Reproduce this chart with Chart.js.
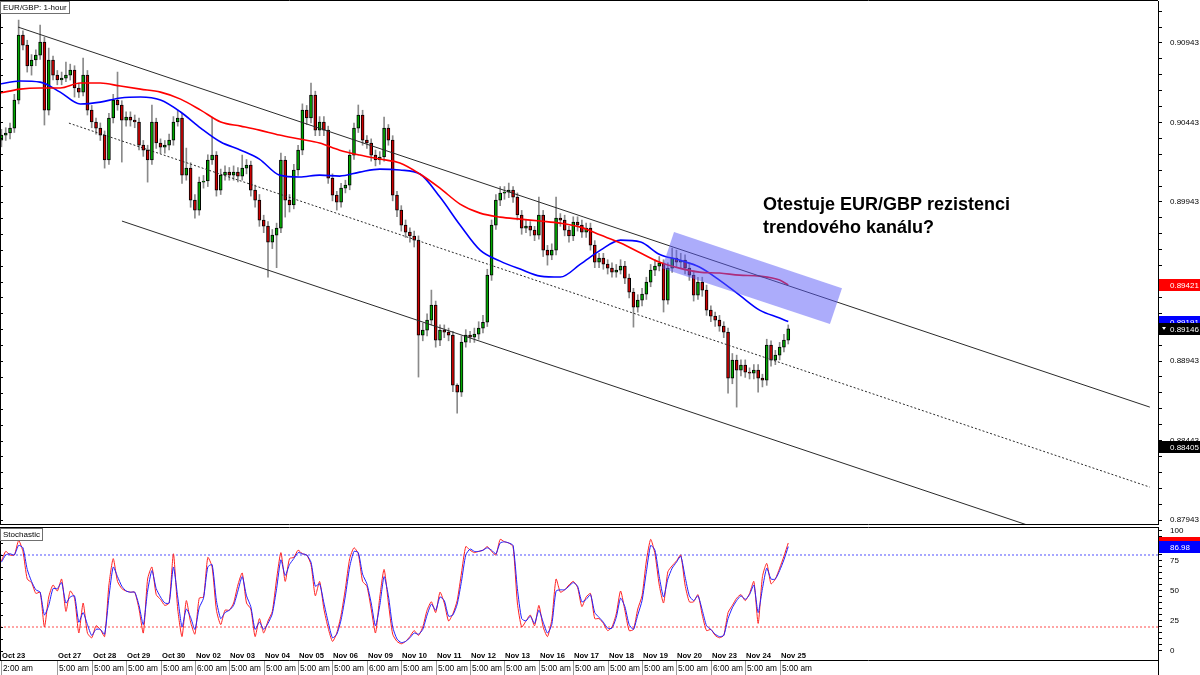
<!DOCTYPE html>
<html>
<head>
<meta charset="utf-8">
<title>EUR/GBP 1-hour</title>
<script src="https://cdn.jsdelivr.net/npm/chart.js@4.4.0/dist/chart.umd.min.js"></script>
<style>
  html, body { margin: 0; padding: 0; background: #fff; }
  #wrap { position: relative; width: 1200px; height: 675px; overflow: hidden; }
  #priceBox { position: absolute; left: 0; top: 0; width: 1200px; height: 526px; }
  #stochBox { position: absolute; left: 0; top: 525px; width: 1200px; height: 150px; }
</style>
</head>
<body>
<div id="wrap">
  <div id="priceBox"><canvas id="priceChart"></canvas></div>
  <div id="stochBox"><canvas id="stochChart"></canvas></div>
</div>
<script>
// --- time axis (x unit = hourly bar index) ---
const dayTickHours = [1, 40, 64, 88, 112, 136, 160, 184, 208, 232, 256, 280, 304, 328, 352, 376, 400, 424, 448, 472, 496, 520, 544];
const dayLabels = ['Oct 23', 'Oct 27', 'Oct 28', 'Oct 29', 'Oct 30', 'Nov 02', 'Nov 03', 'Nov 04', 'Nov 05', 'Nov 06', 'Nov 09',
  'Nov 10', 'Nov 11', 'Nov 12', 'Nov 13', 'Nov 16', 'Nov 17', 'Nov 18', 'Nov 19', 'Nov 20', 'Nov 23', 'Nov 24', 'Nov 25'];
const timeLabels = ['2:00 am', '5:00 am', '5:00 am', '5:00 am', '5:00 am', '6:00 am', '5:00 am', '5:00 am', '5:00 am', '5:00 am', '6:00 am',
  '5:00 am', '5:00 am', '5:00 am', '5:00 am', '5:00 am', '5:00 am', '5:00 am', '5:00 am', '5:00 am', '6:00 am', '5:00 am', '5:00 am'];
const hourMin = 0;
const hourMax = 808;
const candleStepHours = 3;

// --- EUR/GBP candles (3 hours each) ---
const opens = [
  0.90332, 0.90364, 0.90377, 0.90408, 0.90584, 0.90993, 0.90930, 0.90798, 0.90836, 0.90867,
  0.90949, 0.90521, 0.90836, 0.90741, 0.90710, 0.90722, 0.90741, 0.90773, 0.90660, 0.90634,
  0.90741, 0.90521, 0.90446, 0.90408, 0.90364, 0.90207, 0.90471, 0.90584, 0.90553, 0.90458,
  0.90477, 0.90458, 0.90446, 0.90301, 0.90269, 0.90207, 0.90446, 0.90314, 0.90288, 0.90301,
  0.90332, 0.90446, 0.90471, 0.90112, 0.90156, 0.89955, 0.89892, 0.90068, 0.90075, 0.90207,
  0.90238, 0.90018, 0.90112, 0.90131, 0.90112, 0.90131, 0.90106, 0.90156, 0.90175, 0.90018,
  0.89955, 0.89829, 0.89791, 0.89691, 0.89735, 0.89779, 0.90207, 0.89955, 0.89924, 0.90144,
  0.90269, 0.90521, 0.90471, 0.90615, 0.90395, 0.90446, 0.90395, 0.90093, 0.89986, 0.89942,
  0.90030, 0.90049, 0.90238, 0.90408, 0.90490, 0.90332, 0.90314, 0.90238, 0.90207, 0.90226,
  0.90408, 0.90332, 0.89986, 0.89892, 0.89798, 0.89754, 0.89729, 0.89703, 0.89106, 0.89137,
  0.89200, 0.89295, 0.89074, 0.89137, 0.89125, 0.89106, 0.88791, 0.88747, 0.89062, 0.89106,
  0.89093, 0.89112, 0.89150, 0.89187, 0.89483, 0.89798, 0.89955, 0.89999, 0.90005, 0.90018,
  0.89974, 0.89861, 0.89779, 0.89791, 0.89766, 0.89735, 0.89861, 0.89640, 0.89609, 0.89640,
  0.89842, 0.89829, 0.89766, 0.89729, 0.89817, 0.89798, 0.89754, 0.89779, 0.89672, 0.89565,
  0.89590, 0.89552, 0.89527, 0.89502, 0.89515, 0.89540, 0.89464, 0.89376, 0.89282, 0.89326,
  0.89364, 0.89439, 0.89515, 0.89540, 0.89559, 0.89326, 0.89527, 0.89590, 0.89565, 0.89578,
  0.89527, 0.89483, 0.89357, 0.89439, 0.89389, 0.89263, 0.89225, 0.89200, 0.89162, 0.89125,
  0.88835, 0.88949, 0.88886, 0.88917, 0.88873, 0.88867, 0.88886, 0.88835, 0.88823, 0.89043,
  0.88949, 0.88980, 0.89030, 0.89074
];
const highs = [
  0.90400, 0.90410, 0.90440, 0.90620, 0.91087, 0.91020, 0.90960, 0.90870, 0.90900, 0.91056,
  0.90980, 0.90911, 0.90860, 0.90770, 0.90760, 0.90823, 0.90810, 0.90800, 0.90690, 0.90848,
  0.90770, 0.90550, 0.90470, 0.90440, 0.90390, 0.90500, 0.90620, 0.90760, 0.90580, 0.90510,
  0.90510, 0.90490, 0.90470, 0.90330, 0.90300, 0.90553, 0.90470, 0.90340, 0.90330, 0.90370,
  0.90480, 0.90521, 0.90500, 0.90282, 0.90190, 0.89990, 0.90100, 0.90110, 0.90240, 0.90477,
  0.90260, 0.90150, 0.90170, 0.90160, 0.90170, 0.90160, 0.90238, 0.90210, 0.90200, 0.90050,
  0.89990, 0.89860, 0.89820, 0.89770, 0.89810, 0.90250, 0.90230, 0.89990, 0.90180, 0.90300,
  0.90560, 0.90550, 0.90691, 0.90640, 0.90480, 0.90480, 0.90420, 0.90120, 0.90010, 0.90060,
  0.90080, 0.90270, 0.90440, 0.90553, 0.90520, 0.90360, 0.90340, 0.90270, 0.90260, 0.90477,
  0.90430, 0.90360, 0.90010, 0.89920, 0.89830, 0.89780, 0.89760, 0.89730, 0.89180, 0.89240,
  0.89389, 0.89320, 0.89170, 0.89170, 0.89150, 0.89130, 0.88800, 0.89100, 0.89140, 0.89130,
  0.89150, 0.89190, 0.89230, 0.89520, 0.89830, 0.89990, 0.90040, 0.90040, 0.90062, 0.90040,
  0.90000, 0.89890, 0.89830, 0.89820, 0.89790, 0.89974, 0.89890, 0.89670, 0.89680, 0.89974,
  0.89870, 0.89860, 0.89790, 0.89850, 0.89850, 0.89830, 0.89810, 0.89810, 0.89700, 0.89620,
  0.89620, 0.89580, 0.89560, 0.89550, 0.89580, 0.89570, 0.89490, 0.89400, 0.89360, 0.89400,
  0.89470, 0.89550, 0.89580, 0.89600, 0.89580, 0.89560, 0.89653, 0.89640, 0.89620, 0.89610,
  0.89560, 0.89510, 0.89470, 0.89470, 0.89420, 0.89290, 0.89250, 0.89230, 0.89190, 0.89150,
  0.88990, 0.88980, 0.88950, 0.88950, 0.88900, 0.88920, 0.88920, 0.88860, 0.89080, 0.89070,
  0.89010, 0.89060, 0.89110, 0.89170
];
const lows = [
  0.90290, 0.90330, 0.90340, 0.90380, 0.90560, 0.90900, 0.90760, 0.90741, 0.90800, 0.90840,
  0.90427, 0.90490, 0.90710, 0.90680, 0.90680, 0.90700, 0.90710, 0.90603, 0.90600, 0.90610,
  0.90490, 0.90410, 0.90370, 0.90330, 0.90156, 0.90180, 0.90440, 0.90520, 0.90194, 0.90420,
  0.90420, 0.90410, 0.90270, 0.90230, 0.90068, 0.90180, 0.90280, 0.90250, 0.90250, 0.90270,
  0.90300, 0.90420, 0.90060, 0.90080, 0.89910, 0.89842, 0.89860, 0.90030, 0.90040, 0.90180,
  0.89980, 0.89990, 0.90080, 0.90080, 0.90080, 0.90070, 0.90080, 0.90120, 0.89980, 0.89910,
  0.89790, 0.89750, 0.89471, 0.89650, 0.89530, 0.89750, 0.89848, 0.89880, 0.89900, 0.90110,
  0.90240, 0.90430, 0.90440, 0.90360, 0.90360, 0.90360, 0.90060, 0.89950, 0.89892, 0.89910,
  0.90000, 0.90020, 0.90210, 0.90380, 0.90300, 0.90280, 0.90200, 0.90170, 0.90180, 0.90200,
  0.90300, 0.89950, 0.89850, 0.89760, 0.89720, 0.89690, 0.89660, 0.88842, 0.89070, 0.89100,
  0.89170, 0.89030, 0.89040, 0.89090, 0.89070, 0.88750, 0.88615, 0.88720, 0.89030, 0.89060,
  0.89060, 0.89080, 0.89120, 0.89160, 0.89450, 0.89770, 0.89920, 0.89960, 0.89970, 0.89940,
  0.89830, 0.89740, 0.89750, 0.89730, 0.89700, 0.89710, 0.89600, 0.89546, 0.89580, 0.89610,
  0.89790, 0.89730, 0.89690, 0.89700, 0.89760, 0.89720, 0.89720, 0.89640, 0.89530, 0.89530,
  0.89520, 0.89490, 0.89470, 0.89470, 0.89490, 0.89430, 0.89340, 0.89156, 0.89250, 0.89290,
  0.89330, 0.89410, 0.89480, 0.89510, 0.89251, 0.89300, 0.89500, 0.89530, 0.89530, 0.89490,
  0.89450, 0.89320, 0.89330, 0.89350, 0.89230, 0.89190, 0.89160, 0.89130, 0.89090, 0.88741,
  0.88800, 0.88653, 0.88850, 0.88840, 0.88830, 0.88830, 0.88747, 0.88780, 0.88790, 0.88910,
  0.88920, 0.88950, 0.89000, 0.89050
];
const closes = [
  0.90364, 0.90377, 0.90408, 0.90584, 0.90993, 0.90930, 0.90798, 0.90836, 0.90867, 0.90949,
  0.90521, 0.90836, 0.90741, 0.90710, 0.90722, 0.90741, 0.90773, 0.90660, 0.90634, 0.90741,
  0.90521, 0.90446, 0.90408, 0.90364, 0.90207, 0.90471, 0.90584, 0.90553, 0.90458, 0.90477,
  0.90458, 0.90446, 0.90301, 0.90269, 0.90207, 0.90446, 0.90314, 0.90288, 0.90301, 0.90332,
  0.90446, 0.90471, 0.90112, 0.90156, 0.89955, 0.89892, 0.90068, 0.90075, 0.90207, 0.90238,
  0.90018, 0.90112, 0.90131, 0.90112, 0.90131, 0.90106, 0.90156, 0.90175, 0.90018, 0.89955,
  0.89829, 0.89791, 0.89691, 0.89735, 0.89779, 0.90207, 0.89955, 0.89924, 0.90144, 0.90269,
  0.90521, 0.90471, 0.90615, 0.90395, 0.90446, 0.90395, 0.90093, 0.89986, 0.89942, 0.90030,
  0.90049, 0.90238, 0.90408, 0.90490, 0.90332, 0.90314, 0.90238, 0.90207, 0.90226, 0.90408,
  0.90332, 0.89986, 0.89892, 0.89798, 0.89754, 0.89729, 0.89703, 0.89106, 0.89137, 0.89200,
  0.89295, 0.89074, 0.89137, 0.89125, 0.89106, 0.88791, 0.88747, 0.89062, 0.89106, 0.89093,
  0.89112, 0.89150, 0.89187, 0.89483, 0.89798, 0.89955, 0.89999, 0.90005, 0.90018, 0.89974,
  0.89861, 0.89779, 0.89791, 0.89766, 0.89735, 0.89861, 0.89640, 0.89609, 0.89640, 0.89842,
  0.89829, 0.89766, 0.89729, 0.89817, 0.89798, 0.89754, 0.89779, 0.89672, 0.89565, 0.89590,
  0.89552, 0.89527, 0.89502, 0.89515, 0.89540, 0.89464, 0.89376, 0.89282, 0.89326, 0.89364,
  0.89439, 0.89515, 0.89540, 0.89559, 0.89326, 0.89527, 0.89590, 0.89565, 0.89578, 0.89527,
  0.89483, 0.89357, 0.89439, 0.89389, 0.89263, 0.89225, 0.89200, 0.89162, 0.89125, 0.88835,
  0.88949, 0.88886, 0.88917, 0.88873, 0.88867, 0.88886, 0.88835, 0.88823, 0.89043, 0.88949,
  0.88980, 0.89030, 0.89074, 0.89146
];

// --- moving averages (red = slow, blue = fast) ---
const maHours = [0, 14, 28, 42, 56, 70, 84, 98, 112, 126, 140, 154, 168, 181, 195, 209, 223, 237, 251, 265, 279,
  293, 307, 321, 335, 349, 363, 377, 391, 405, 419, 433, 447, 460, 474, 488, 502, 516, 530, 544, 550];
const redMA = [0.90628, 0.90653, 0.90660, 0.90660, 0.90691, 0.90691, 0.90672, 0.90653, 0.90634, 0.90590,
  0.90521, 0.90446, 0.90420, 0.90395, 0.90364, 0.90339, 0.90314, 0.90269, 0.90238, 0.90213,
  0.90188, 0.90119, 0.90030, 0.89930, 0.89873, 0.89848, 0.89835, 0.89823, 0.89810, 0.89785,
  0.89735, 0.89685, 0.89622, 0.89565, 0.89527, 0.89502, 0.89496, 0.89483, 0.89477, 0.89452, 0.89421];
const blueMA = [0.90685, 0.90704, 0.90697, 0.90634, 0.90559, 0.90571, 0.90597, 0.90603, 0.90584, 0.90509,
  0.90408, 0.90320, 0.90269, 0.90213, 0.90112, 0.90100, 0.90112, 0.90106, 0.90131, 0.90150,
  0.90144, 0.90119, 0.89974, 0.89798, 0.89640, 0.89571, 0.89521, 0.89477, 0.89471, 0.89552,
  0.89640, 0.89703, 0.89691, 0.89615, 0.89578, 0.89534, 0.89452, 0.89357, 0.89263, 0.89213, 0.89191];

// --- stochastic (%K red, %D blue), same time grid as the candles ---
const stochK = [
  75, 83, 80, 80, 92, 83, 60, 57, 48, 49, 20, 45, 55, 50, 60, 33, 50, 44, 15, 40,
  15, 11, 21, 18, 12, 55, 77, 58, 52, 50, 49, 49, 35, 15, 60, 70, 47, 43, 38, 40,
  81, 35, 12, 42, 24, 14, 44, 45, 78, 70, 34, 22, 34, 34, 40, 55, 65, 40, 35, 12,
  27, 15, 25, 33, 60, 82, 58, 77, 78, 84, 81, 80, 72, 46, 58, 35, 19, 8, 15, 30,
  52, 77, 86, 81, 58, 54, 35, 15, 45, 68, 40, 14, 8, 6, 8, 12, 17, 13, 20, 34,
  41, 32, 49, 40, 25, 31, 42, 65, 87, 84, 82, 83, 84, 87, 83, 80, 93, 91, 90, 87,
  40, 20, 25, 30, 21, 38, 20, 12, 26, 60, 49, 51, 55, 58, 53, 37, 45, 48, 27, 27,
  23, 17, 20, 31, 50, 34, 17, 18, 35, 46, 75, 93, 81, 55, 40, 66, 71, 75, 80, 55,
  41, 41, 47, 30, 17, 18, 13, 11, 13, 32, 38, 44, 47, 42, 48, 58, 23, 62, 73, 56,
  60, 69, 79, 90
];
const stochD = [
  74, 80, 81, 80, 88, 86, 68, 58, 51, 49, 30, 38, 52, 52, 57, 40, 45, 46, 24, 32,
  22, 13, 18, 18, 14, 45, 70, 62, 54, 50, 49, 49, 38, 22, 50, 67, 52, 45, 40, 40,
  70, 45, 20, 35, 28, 18, 36, 44, 70, 72, 42, 27, 32, 34, 38, 50, 62, 46, 37, 18,
  24, 18, 23, 31, 52, 76, 63, 72, 77, 82, 81, 80, 74, 54, 56, 40, 24, 11, 14, 26,
  46, 70, 83, 82, 64, 56, 40, 21, 38, 62, 46, 20, 10, 7, 8, 11, 15, 14, 18, 30,
  39, 34, 45, 42, 29, 30, 39, 58, 80, 85, 83, 83, 84, 86, 84, 81, 90, 91, 90, 88,
  52, 27, 25, 29, 23, 34, 24, 15, 22, 50, 51, 51, 54, 57, 54, 41, 43, 47, 32, 28,
  24, 19, 19, 28, 44, 37, 22, 18, 30, 42, 66, 88, 84, 62, 45, 60, 69, 74, 79, 62,
  46, 42, 46, 34, 21, 18, 14, 12, 13, 27, 36, 42, 46, 43, 47, 55, 32, 52, 69, 60,
  60, 67, 76, 86.98
];
const stochLevels = [80, 20];
const stochLevelColors = ['#5050ff', '#ff4a4a'];

// --- axis tick labels ---
const priceLabelValues = [0.87943, 0.88443, 0.88943, 0.89443, 0.89943, 0.90443, 0.90943];
const priceMinorStep = 0.001;
const stochLabelValues = [0, 25, 50, 75, 100];
const stochMinorStep = 5;

// --- drawings: trend channel (hour, price) and the resistance zone ---
const upperChannel = [[12.6, 0.91043], [802.3, 0.88653]];
const middleChannel = [[48.1, 0.90439], [802.3, 0.88150]];
const lowerChannel = [[85.1, 0.89823], [802.3, 0.87653]];
const resistanceZone = [[470.3, 0.89754], [587.5, 0.89401], [579.1, 0.89175], [461.9, 0.89527]];
const noteLines = ['Otestuje EUR/GBP rezistenci', 'trendového kanálu?'];

// --- value markers on the right axis ---
const priceMarkers = [0.89421, 0.89191, 0.89146, 0.88405];
const priceMarkerColors = ['#ff0000', '#0000ff', '#000000', '#000000'];
const stochMarkers = [stochK[stochK.length - 1], stochD[stochD.length - 1]];
const stochMarkerColors = ['#ff0000', '#0000ff'];

const fontFamily = "'Liberation Sans', Arial, sans-serif";
const candleHours = closes.map((c, i) => i * candleStepHours + 1);

// minor tick list anchored on a labelled value
function tickList(anchor, step, min, max) {
  const out = [];
  let v = anchor;
  while (v - step >= min) v -= step;
  for (; v <= max + 1e-9; v += step) out.push({ value: +v.toFixed(6) });
  return out;
}
function isLabelled(v, list) {
  return list.some(l => Math.abs(l - v) < 1e-7);
}
// fixed axis width, no extra padding for the end labels
function fitAxis(s) {
  s.width = 42;
  s.paddingTop = 0;
  s.paddingBottom = 0;
}

function drawSegment(ctx, x, y, seg, dash) {
  ctx.strokeStyle = '#2a2a2a';
  ctx.lineWidth = 1;
  ctx.setLineDash(dash);
  ctx.beginPath();
  ctx.moveTo(x.getPixelForValue(seg[0][0]), y.getPixelForValue(seg[0][1]));
  ctx.lineTo(x.getPixelForValue(seg[1][0]), y.getPixelForValue(seg[1][1]));
  ctx.stroke();
  ctx.setLineDash([]);
}

function drawMarker(ctx, left, py, color, text, arrow) {
  const top = Math.round(py) - 6;
  ctx.fillStyle = color;
  ctx.fillRect(left + 1, top, 42, 12);
  ctx.fillStyle = '#fff';
  ctx.font = '8px ' + fontFamily;
  ctx.textAlign = 'left';
  ctx.textBaseline = 'middle';
  ctx.fillText(text, left + 12, top + 6.5);
  if (arrow) {
    ctx.beginPath();
    ctx.moveTo(left + 4, top + 4);
    ctx.lineTo(left + 8, top + 4);
    ctx.lineTo(left + 6, top + 7);
    ctx.closePath();
    ctx.fill();
  }
}

function drawTag(ctx, px, py, text) {
  ctx.font = '8px ' + fontFamily;
  const w = Math.ceil(ctx.measureText(text).width) + 5;
  ctx.fillStyle = '#fff';
  ctx.fillRect(px, py, w, 12);
  ctx.strokeStyle = '#707070';
  ctx.lineWidth = 1;
  ctx.strokeRect(px + 0.5, py + 0.5, w, 12);
  ctx.fillStyle = '#000';
  ctx.textAlign = 'left';
  ctx.textBaseline = 'middle';
  ctx.fillText(text, px + 3, py + 7);
}

// trend channel, zone, note, frame and axis markers of the price pane
const priceOverlay = {
  id: 'priceOverlay',
  afterDatasetsDraw(chart) {
    const { ctx, chartArea: a, scales: { x, y } } = chart;
    ctx.save();
    ctx.beginPath();
    ctx.rect(a.left, a.top, a.width, a.height);
    ctx.clip();
    drawSegment(ctx, x, y, upperChannel, []);
    drawSegment(ctx, x, y, middleChannel, [2, 2]);
    drawSegment(ctx, x, y, lowerChannel, []);

    ctx.fillStyle = 'rgba(90, 90, 248, 0.5)';
    ctx.beginPath();
    resistanceZone.forEach(([h, p], i) => {
      const px = x.getPixelForValue(h), py = y.getPixelForValue(p);
      if (i === 0) ctx.moveTo(px, py); else ctx.lineTo(px, py);
    });
    ctx.closePath();
    ctx.fill();

    ctx.fillStyle = '#000';
    ctx.font = 'bold 18px ' + fontFamily;
    ctx.textAlign = 'left';
    ctx.textBaseline = 'middle';
    ctx.fillText(noteLines[0], 763, 205);
    ctx.fillText(noteLines[1], 763, 228);
    ctx.restore();
  },
  afterDraw(chart) {
    const { ctx, chartArea: a, scales: { y } } = chart;
    ctx.save();
    ctx.strokeStyle = '#000';
    ctx.lineWidth = 1;
    ctx.beginPath();
    ctx.moveTo(0, 0.5); ctx.lineTo(a.right, 0.5);
    ctx.moveTo(0, a.bottom + 0.5); ctx.lineTo(a.right, a.bottom + 0.5);
    ctx.moveTo(0.5, 0); ctx.lineTo(0.5, a.bottom);
    // small ticks on the left edge
    y.ticks.forEach(t => {
      const py = Math.round(y.getPixelForValue(t.value)) + 0.5;
      ctx.moveTo(0, py); ctx.lineTo(3, py);
    });
    ctx.stroke();

    priceMarkers.forEach((v, i) => {
      drawMarker(ctx, a.right, y.getPixelForValue(v), priceMarkerColors[i], v.toFixed(5), i === 2);
    });
    drawTag(ctx, 0, 1, 'EUR/GBP: 1-hour');
    ctx.restore();
  }
};

// time axis, frame and markers of the stochastic pane
const stochOverlay = {
  id: 'stochOverlay',
  afterDraw(chart) {
    const { ctx, chartArea: a, scales: { x, y } } = chart;
    const h = chart.height;
    ctx.save();
    ctx.strokeStyle = '#000';
    ctx.lineWidth = 1;
    ctx.beginPath();
    ctx.moveTo(0, a.top + 0.5); ctx.lineTo(a.right, a.top + 0.5);
    ctx.moveTo(0, a.bottom + 0.5); ctx.lineTo(a.right, a.bottom + 0.5);
    ctx.moveTo(0.5, a.top); ctx.lineTo(0.5, a.bottom);
    y.ticks.forEach(t => {
      if (t.value % 10 !== 0) return;
      const py = Math.round(y.getPixelForValue(t.value)) + 0.5;
      ctx.moveTo(0, py); ctx.lineTo(3, py);
    });
    ctx.moveTo(a.right + 0.5, a.bottom); ctx.lineTo(a.right + 0.5, h);
    ctx.stroke();

    // day separators and labels
    ctx.textAlign = 'left';
    ctx.textBaseline = 'middle';
    dayTickHours.forEach((hr, i) => {
      const px = Math.round(x.getPixelForValue(hr));
      ctx.strokeStyle = '#9a9a9a';
      ctx.beginPath();
      ctx.moveTo(px + 0.5, a.bottom + 1); ctx.lineTo(px + 0.5, h);
      ctx.stroke();
      ctx.fillStyle = '#000';
      ctx.font = '8.3px ' + fontFamily;
      ctx.fillText(timeLabels[i], px + 2, a.bottom + 8.5);
      ctx.font = 'bold 7.6px ' + fontFamily;
      ctx.fillText(dayLabels[i], px + 1, a.bottom - 4);
    });

    stochMarkers.forEach((v, i) => {
      drawMarker(ctx, a.right, y.getPixelForValue(v), stochMarkerColors[i], v.toFixed(2), false);
    });
    drawTag(ctx, 0, a.top + 1, 'Stochastic');
    ctx.restore();
  }
};

const priceMin = 0.87918;
const priceMax = 0.91207;

new Chart(document.getElementById('priceChart'), {
  type: 'bar',
  data: {
    datasets: [
      {
        type: 'line', label: 'MA slow', order: 1,
        data: maHours.map((hr, i) => ({ x: hr, y: redMA[i] })),
        borderColor: '#ff0000', borderWidth: 1.6, pointRadius: 0, cubicInterpolationMode: 'monotone'
      },
      {
        type: 'line', label: 'MA fast', order: 1,
        data: maHours.map((hr, i) => ({ x: hr, y: blueMA[i] })),
        borderColor: '#0000ff', borderWidth: 1.6, pointRadius: 0, cubicInterpolationMode: 'monotone'
      },
      {
        label: 'body', order: 2, grouped: false,
        data: candleHours.map((hr, i) => ({ x: hr, y: [opens[i], closes[i]] })),
        backgroundColor: closes.map((c, i) => c >= opens[i] ? '#00a800' : '#cc0000'),
        borderColor: '#000', borderWidth: 1, borderSkipped: false, barThickness: 3
      },
      {
        label: 'wick', order: 3, grouped: false,
        data: candleHours.map((hr, i) => ({ x: hr, y: [lows[i], highs[i]] })),
        backgroundColor: '#8a8a8a', borderWidth: 0, barThickness: 1
      }
    ]
  },
  options: {
    responsive: true,
    maintainAspectRatio: false,
    animation: false,
    layout: { padding: { top: 1, bottom: 2, left: 0, right: 0 } },
    plugins: { legend: { display: false }, tooltip: { enabled: false } },
    scales: {
      x: { type: 'linear', min: hourMin, max: hourMax, offset: false, display: false },
      y: {
        position: 'right', min: priceMin, max: priceMax,
        afterBuildTicks: s => { s.ticks = tickList(priceLabelValues[0], priceMinorStep, priceMin, priceMax); },
        afterFit: fitAxis,
        grid: { drawOnChartArea: false, tickLength: 4, color: '#000' },
        border: { color: '#000' },
        ticks: {
          autoSkip: false, padding: 8, color: '#000',
          font: { family: fontFamily, size: 8 },
          callback: v => isLabelled(v, priceLabelValues) ? v.toFixed(5) : ''
        }
      }
    }
  },
  plugins: [priceOverlay]
});

const stochMin = -7.5;
const stochMax = 103.33;

new Chart(document.getElementById('stochChart'), {
  type: 'line',
  data: {
    datasets: [
      {
        label: '%D', order: 1,
        data: candleHours.map((hr, i) => ({ x: hr, y: stochD[i] })),
        borderColor: '#2020ff', borderWidth: 1, pointRadius: 0, tension: 0.2
      },
      {
        label: '%K', order: 2,
        data: candleHours.map((hr, i) => ({ x: hr, y: stochK[i] })),
        borderColor: '#ff2020', borderWidth: 1, pointRadius: 0, tension: 0.2
      },
      ...stochLevels.map((lv, i) => ({
        label: 'level ' + lv, order: 3,
        data: [{ x: hourMin, y: lv }, { x: hourMax, y: lv }],
        borderColor: stochLevelColors[i], borderWidth: 1, borderDash: [2, 2], pointRadius: 0
      }))
    ]
  },
  options: {
    responsive: true,
    maintainAspectRatio: false,
    animation: false,
    layout: { padding: { top: 2, bottom: 15, left: 0, right: 0 } },
    plugins: { legend: { display: false }, tooltip: { enabled: false } },
    scales: {
      x: { type: 'linear', min: hourMin, max: hourMax, offset: false, display: false },
      y: {
        position: 'right', min: stochMin, max: stochMax,
        afterBuildTicks: s => { s.ticks = tickList(stochLabelValues[0], stochMinorStep, 0, 100); },
        afterFit: fitAxis,
        grid: { drawOnChartArea: false, tickLength: 4, color: '#000' },
        border: { color: '#000' },
        ticks: {
          autoSkip: false, padding: 8, color: '#000',
          font: { family: fontFamily, size: 8 },
          callback: v => isLabelled(v, stochLabelValues) ? String(v) : ''
        }
      }
    }
  },
  plugins: [stochOverlay]
});
</script>
</body>
</html>
